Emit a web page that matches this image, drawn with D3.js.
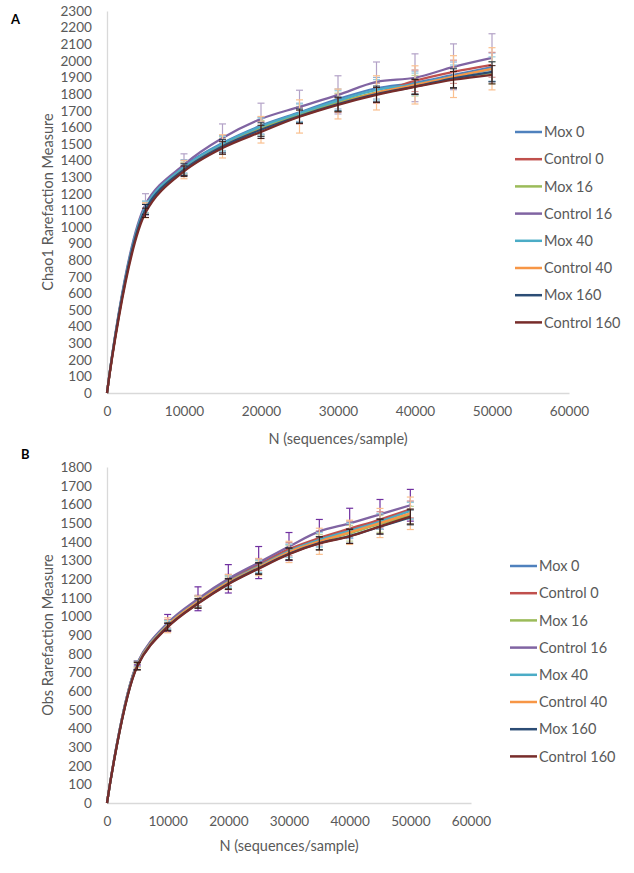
<!DOCTYPE html>
<html>
<head>
<meta charset="utf-8">
<script src="https://cdn.jsdelivr.net/npm/d3@7"></script>
<style>
  body { margin: 0; background: #fff; }
  svg { display: block; }
  text { font-family: Lato, "Open Sans", sans-serif; }
</style>
</head>
<body>
<svg id="chart" width="634" height="873"></svg>
<script>
// sequencing depth (x values of every point)
let depths = [0, 5000, 10000, 15000, 20000, 25000, 30000, 35000, 40000, 45000, 50000];

let seriesNames = ['Mox 0', 'Control 0', 'Mox 16', 'Control 16', 'Mox 40', 'Control 40', 'Mox 160', 'Control 160'];
let lineColors = ['#4F81BD', '#C0504D', '#9BBB59', '#8064A2', '#4BACC6', '#F79646', '#2C4D75', '#772C2A'];

// panel A : Chao1
let chaoMox0 = [0, 1120, 1365, 1505, 1610, 1690, 1770, 1835, 1868, 1915, 1962];
let chaoCtrl0 = [0, 1110, 1350, 1490, 1590, 1670, 1745, 1805, 1880, 1934, 1976];
let chaoMox16 = [0, 1115, 1355, 1495, 1595, 1675, 1750, 1810, 1850, 1895, 1928];
let chaoCtrl16 = [0, 1135, 1375, 1535, 1650, 1723, 1795, 1873, 1898, 1964, 2018];
let chaoMox40 = [0, 1120, 1360, 1500, 1605, 1685, 1760, 1825, 1860, 1905, 1950];
let chaoCtrl40 = [0, 1100, 1345, 1485, 1585, 1665, 1740, 1807, 1855, 1905, 1952];
let chaoMox160 = [0, 1105, 1345, 1485, 1585, 1668, 1740, 1800, 1845, 1895, 1934];
let chaoCtrl160 = [0, 1085, 1335, 1475, 1572, 1663, 1735, 1795, 1843, 1886, 1916];

let chaoSdMox0 = [0, 35, 40, 45, 50, 55, 60, 65, 70, 78, 85];
let chaoSdCtrl0 = [0, 30, 35, 40, 45, 50, 55, 60, 65, 70, 75];
let chaoSdMox16 = [0, 30, 35, 40, 45, 50, 55, 60, 62, 65, 67];
let chaoSdCtrl16 = [0, 65, 65, 85, 95, 100, 115, 120, 144, 138, 145];
let chaoSdMox40 = [0, 35, 40, 45, 50, 55, 60, 62, 66, 70, 74];
let chaoSdCtrl40 = [0, 45, 55, 70, 80, 100, 90, 103, 115, 126, 127];
let chaoSdMox160 = [0, 30, 35, 40, 42, 42, 42, 48, 45, 57, 60];
let chaoSdCtrl160 = [0, 28, 32, 38, 40, 40, 42, 45, 45, 50, 55];

// panel B : observed OTUs
let obsMox0 = [0, 745, 955, 1080, 1188, 1270, 1352, 1412, 1462, 1510, 1568];
let obsCtrl0 = [0, 748, 960, 1085, 1195, 1278, 1360, 1420, 1470, 1519, 1573];
let obsMox16 = [0, 738, 950, 1075, 1180, 1262, 1340, 1398, 1445, 1495, 1541];
let obsCtrl16 = [0, 750, 965, 1094, 1201, 1288, 1374, 1455, 1498, 1546, 1595];
let obsMox40 = [0, 745, 955, 1080, 1187, 1268, 1350, 1410, 1458, 1508, 1565];
let obsCtrl40 = [0, 740, 952, 1078, 1183, 1263, 1345, 1402, 1450, 1500, 1552];
let obsMox160 = [0, 735, 945, 1070, 1175, 1258, 1335, 1392, 1430, 1480, 1530];
let obsCtrl160 = [0, 732, 942, 1068, 1172, 1255, 1333, 1390, 1428, 1482, 1535];

let obsSdMox0 = [0, 15, 25, 30, 30, 35, 35, 40, 40, 42, 45];
let obsSdCtrl0 = [0, 15, 22, 28, 30, 32, 35, 38, 40, 42, 45];
let obsSdMox16 = [0, 12, 25, 30, 32, 35, 38, 40, 42, 45, 48];
let obsSdCtrl16 = [0, 10, 45, 64, 76, 86, 75, 64, 81, 80, 85];
let obsSdMox40 = [0, 15, 22, 28, 30, 32, 35, 38, 40, 42, 45];
let obsSdCtrl40 = [0, 15, 40, 30, 40, 45, 57, 70, 65, 78, 87];
let obsSdMox160 = [0, 20, 20, 25, 28, 30, 32, 35, 38, 40, 40];
let obsSdCtrl160 = [0, 20, 20, 25, 28, 30, 32, 35, 38, 40, 40];

let xTicks = [0, 10000, 20000, 30000, 40000, 50000, 60000];
let chaoTicks = d3.range(0, 2301, 100);
let obsTicks = d3.range(0, 1801, 100);

let errColorsA = ['#95B3D7', '#D99694', '#C3D69B', '#B3A2C7', '#93CDDD', '#FAC090', '#1F2F45', '#3F1A14'];
let errColorsB = ['#95B3D7', '#D99694', '#C3D69B', '#7030A0', '#93CDDD', '#FAC090', '#1F2F45', '#3F1A14'];

let svg = d3.select('#chart');

function drawPanel(p) {
	let g = svg.append('g');

	let x = d3.scaleLinear().domain([0, 60000]).range([107, p.xEnd]);
	let y = d3.scaleLinear().domain([0, p.yMax]).range([p.yBottom, p.yTop]);

	let yAxis = g.append('g')
			.attr('transform', 'translate(107,0)')
			.call(d3.axisLeft(y).tickValues(p.yTicks).tickFormat(d3.format('d')).tickSize(0).tickSizeOuter(0).tickPadding(15));
	let xAxis = g.append('g')
			.attr('transform', 'translate(0,' + p.yBottom + ')')
			.call(d3.axisBottom(x).tickValues(xTicks).tickFormat(d3.format('d')).tickSize(0).tickSizeOuter(0).tickPadding(13));

	[yAxis, xAxis].forEach(a => {
		a.select('.domain').attr('stroke', '#D9D9D9').attr('stroke-width', 1.3);
		a.selectAll('text').attr('fill', '#595959').attr('font-size', '13.6px');
	});

	let line = d3.line()
			.x((d, i) => x(depths[i]))
			.y(d => y(d))
			.curve(d3.curveCatmullRom.alpha(0.5));

	p.means.forEach((m, s) => {
		g.append('path')
			.attr('d', line(m))
			.attr('fill', 'none')
			.attr('stroke', lineColors[s])
			.attr('stroke-width', 2.25);

		let bars = g.append('g')
				.attr('stroke', p.errColors[s])
				.attr('stroke-width', s >= 6 ? 1 : 1.2);
		m.forEach((v, i) => {
			let sd = p.sds[s][i];
			if (!sd) return;
			let cx = x(depths[i]);
			bars.append('line').attr('x1', cx).attr('x2', cx).attr('y1', y(v - sd)).attr('y2', y(v + sd));
			bars.append('line').attr('x1', cx - 3.5).attr('x2', cx + 3.5).attr('y1', y(v + sd)).attr('y2', y(v + sd));
			bars.append('line').attr('x1', cx - 3.5).attr('x2', cx + 3.5).attr('y1', y(v - sd)).attr('y2', y(v - sd));
		});
	});

	// axis titles
	g.append('text')
		.attr('transform', 'translate(53,' + (p.yTop + p.yBottom) / 2 + ') rotate(-90)')
		.attr('text-anchor', 'middle')
		.attr('fill', '#595959')
		.attr('font-size', '14.5px')
		.text(p.yTitle);
	g.append('text')
		.attr('x', (107 + p.xEnd) / 2)
		.attr('y', p.yBottom + p.xTitleOffset)
		.attr('text-anchor', 'middle')
		.attr('fill', '#595959')
		.attr('font-size', '14.5px')
		.text('N (sequences/sample)');

	// panel letter
	g.append('text')
		.attr('x', p.letterX)
		.attr('y', p.letterY)
		.attr('font-weight', 'bold')
		.attr('font-size', '13px')
		.attr('fill', '#000')
		.text(p.letter);

	// legend
	let legend = g.selectAll('.legend')
			.data(seriesNames)
		.enter().append('g')
			.attr('transform', (d, i) => 'translate(' + p.legendX + ',' + (p.legendY + i * 27.2) + ')');
	legend.append('line')
		.attr('x1', 0).attr('x2', 27)
		.attr('stroke', (d, i) => lineColors[i])
		.attr('stroke-width', 2.5);
	legend.append('text')
		.attr('x', 29)
		.attr('dy', '0.36em')
		.attr('fill', '#595959')
		.attr('font-size', '14.5px')
		.text(d => d);
}

drawPanel({
	letter: 'A', letterX: 11, letterY: 24,
	yMax: 2300, yTop: 11, yBottom: 393, xEnd: 569,
	yTicks: chaoTicks, xTitleOffset: 51,
	yTitle: 'Chao1 Rarefaction Measure',
	means: [chaoMox0, chaoCtrl0, chaoMox16, chaoCtrl16, chaoMox40, chaoCtrl40, chaoMox160, chaoCtrl160],
	sds: [chaoSdMox0, chaoSdCtrl0, chaoSdMox16, chaoSdCtrl16, chaoSdMox40, chaoSdCtrl40, chaoSdMox160, chaoSdCtrl160],
	errColors: errColorsA,
	legendX: 515, legendY: 132
});

drawPanel({
	letter: 'B', letterX: 21, letterY: 459,
	yMax: 1800, yTop: 467, yBottom: 803, xEnd: 471,
	yTicks: obsTicks, xTitleOffset: 48,
	yTitle: 'Obs Rarefaction Measure',
	means: [obsMox0, obsCtrl0, obsMox16, obsCtrl16, obsMox40, obsCtrl40, obsMox160, obsCtrl160],
	sds: [obsSdMox0, obsSdCtrl0, obsSdMox16, obsSdCtrl16, obsSdMox40, obsSdCtrl40, obsSdMox160, obsSdCtrl160],
	errColors: errColorsB,
	legendX: 510, legendY: 566
});
</script>
</body>
</html>
